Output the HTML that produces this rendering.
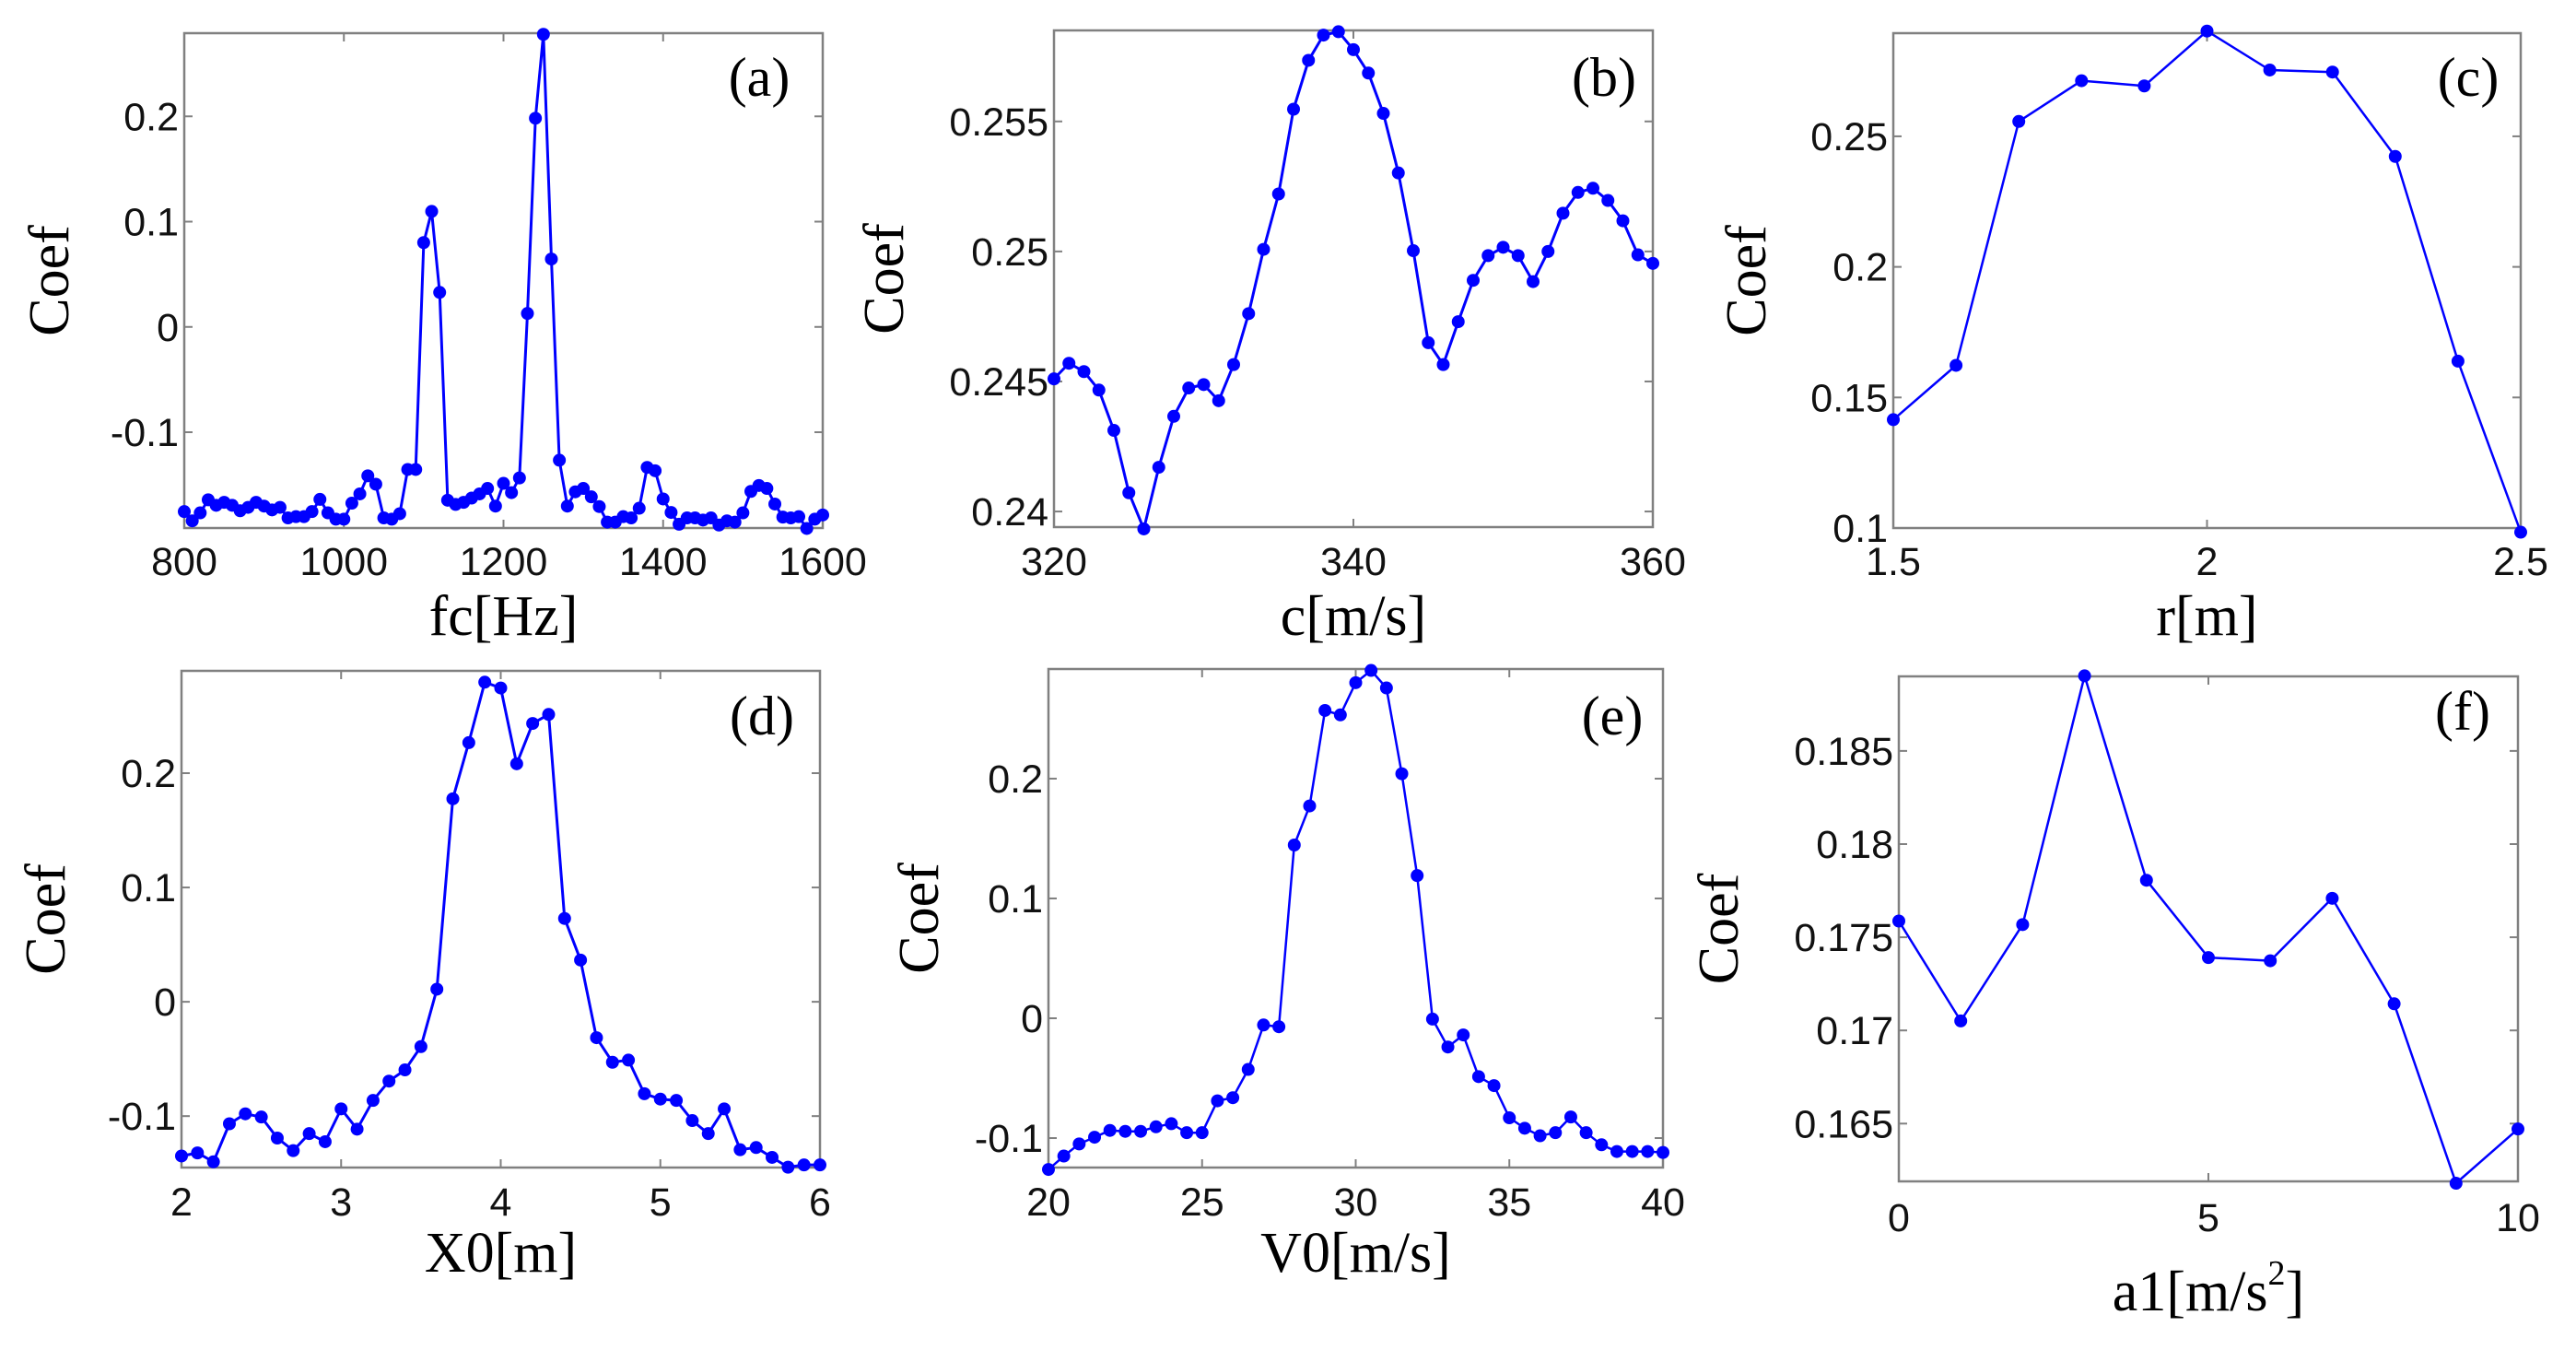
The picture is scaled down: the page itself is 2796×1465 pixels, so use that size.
<!DOCTYPE html>
<html><head><meta charset="utf-8"><style>
html,body{margin:0;padding:0;background:#fff;}
svg{display:block;}
</style></head><body>
<svg id="fig" width="2796" height="1465" viewBox="0 0 2796 1465" xmlns="http://www.w3.org/2000/svg"></svg>
<script>
// Panel (a)
const aX0 = 800, aStep = 10;
const aVals = [-0.1754,-0.1842,-0.1766,-0.1642,-0.1694,-0.1666,-0.1694,-0.1746,-0.1714,-0.1666,
-0.1702,-0.1738,-0.1714,-0.1814,-0.1802,-0.1802,-0.1754,-0.1638,-0.1766,-0.1826,
-0.1826,-0.1674,-0.1586,-0.1414,-0.1494,-0.1814,-0.1826,-0.1774,-0.1354,-0.1354,
0.0801,0.1097,0.0328,-0.1646,-0.1686,-0.1666,-0.1626,-0.1586,-0.1534,-0.1702,
-0.1486,-0.1574,-0.1434,0.0128,0.1982,0.2779,0.0645,-0.1266,-0.1702,-0.1566,
-0.1534,-0.1614,-0.1706,-0.1854,-0.1854,-0.1802,-0.1814,-0.1722,-0.1334,-0.1366,
-0.1634,-0.1762,-0.1874,-0.1814,-0.1814,-0.1834,-0.1814,-0.1882,-0.1842,-0.1854,
-0.1766,-0.1562,-0.1506,-0.1534,-0.1682,-0.1806,-0.1814,-0.1802,-0.1914,-0.1826,-0.1786];
const aXTicks = [800,1000,1200,1400,1600];
const aYTicks = [-0.1,0,0.1,0.2];
const aYTickLabels = ["-0.1","0","0.1","0.2"];
// Panel (b)
const bX0 = 320, bStep = 1;
const bVals = [0.24510,0.24570,0.24538,0.24467,0.24312,0.24072,0.23933,0.24170,0.24366,0.24475,
0.24488,0.24426,0.24565,0.24761,0.25008,0.25221,0.25547,0.25735,0.25832,0.25845,
0.25776,0.25686,0.25531,0.25302,0.25003,0.24649,0.24565,0.24730,0.24889,0.24984,
0.25016,0.24984,0.24884,0.25000,0.25147,0.25227,0.25243,0.25196,0.25118,0.24987,0.24954];
const bXTicks = [320,340,360];
const bYTicks = [0.24,0.245,0.25,0.255];
const bYTickLabels = ["0.24","0.245","0.25","0.255"];
// Panel (c)
const cX0 = 1.5, cStep = 0.1;
const cVals = [0.1415,0.1623,0.2557,0.2713,0.2693,0.2903,0.2754,0.2746,0.2423,0.1639,0.0984];
const cXTicks = [1.5,2,2.5];
const cXTickLabels = ["1.5","2","2.5"];
const cYTicks = [0.1,0.15,0.2,0.25];
const cYTickLabels = ["0.1","0.15","0.2","0.25"];
// Panel (d)
const dX0 = 2, dStep = 0.1;
const dVals = [-0.1349,-0.1322,-0.1400,-0.1067,-0.0980,-0.1008,-0.1192,-0.1302,-0.1153,-0.1224,
-0.0937,-0.1114,-0.0863,-0.0694,-0.0596,-0.0392,0.0110,0.1776,0.2267,0.2796,
0.2745,0.2082,0.2435,0.2514,0.0729,0.0365,-0.0314,-0.0529,-0.0510,-0.0804,
-0.0851,-0.0863,-0.1039,-0.1153,-0.0937,-0.1294,-0.1275,-0.1361,-0.1447,-0.1427,-0.1427];
const dXTicks = [2,3,4,5,6];
const dYTicks = [-0.1,0,0.1,0.2];
const dYTickLabels = ["-0.1","0","0.1","0.2"];
// Panel (e)
const eX0 = 20, eStep = 0.5;
const eVals = [-0.1262,-0.1150,-0.1049,-0.0993,-0.0936,-0.0944,-0.0944,-0.0906,-0.0880,-0.0955,
-0.0955,-0.0689,-0.0663,-0.0427,-0.0056,-0.0071,0.1446,0.1772,0.2569,0.2532,
0.2801,0.2903,0.2757,0.2041,0.1191,-0.0007,-0.0240,-0.0139,-0.0487,-0.0562,
-0.0831,-0.0918,-0.0981,-0.0955,-0.0824,-0.0955,-0.1056,-0.1112,-0.1112,-0.1112,-0.1120];
const eXTicks = [20,25,30,35,40];
const eYTicks = [-0.1,0,0.1,0.2];
const eYTickLabels = ["-0.1","0","0.1","0.2"];
// Panel (f)
const fX0 = 0, fStep = 1;
const fVals = [0.17587,0.17051,0.17568,0.18903,0.17806,0.17391,0.17374,0.17709,0.17143,0.16180,0.16471];
const fXTicks = [0,5,10];
const fYTicks = [0.165,0.17,0.175,0.18,0.185];
const fYTickLabels = ["0.165","0.17","0.175","0.18","0.185"];

const NS = "http://www.w3.org/2000/svg";
const svg = document.getElementById('fig');
function mk(tag, attrs, parent){
  const e = document.createElementNS(NS, tag);
  for (const k in attrs) e.setAttribute(k, attrs[k]);
  (parent||svg).appendChild(e);
  return e;
}
function panel(id, box, xr, yr, x0, step, vals, xt, xtl, yt, ytl, xlabel, letter, lblPos, lw, ylabX, tickY, xlabY, sup){
  const g = mk('g', {});
  
  
  const [L,T,R,B] = box;
  const sx = v => L + (v - xr[0]) / (xr[1] - xr[0]) * (R - L);
  const sy = v => B - (v - yr[0]) / (yr[1] - yr[0]) * (B - T);
  const frame = mk('rect', {x:L, y:T, width:R-L, height:B-T, fill:'none', stroke:'#808080', 'stroke-width':2.5}, g);
  
  
  xt.forEach((v,i) => {
    const x = sx(v);
    mk('line', {x1:x, y1:B, x2:x, y2:B-9, stroke:'#808080','stroke-width':2}, g);
    mk('line', {x1:x, y1:T, x2:x, y2:T+9, stroke:'#808080','stroke-width':2}, g);
    const t = mk('text', {x:x, y:tickY+2, 'text-anchor':'middle', 'font-family':'Liberation Sans, sans-serif', 'font-size':43, fill:'#111'}, g);
    t.textContent = xtl ? xtl[i] : String(v);
    
    
  });
  yt.forEach((v,i) => {
    const y = sy(v);
    mk('line', {x1:L, y1:y, x2:L+9, y2:y, stroke:'#808080','stroke-width':2}, g);
    mk('line', {x1:R, y1:y, x2:R-9, y2:y, stroke:'#808080','stroke-width':2}, g);
    const t = mk('text', {x:L-6, y:y+15, 'text-anchor':'end', 'font-family':'Liberation Sans, sans-serif', 'font-size':43, fill:'#111'}, g);
    t.textContent = ytl[i];
    
    
  });
  const pts = vals.map((v,i) => [sx(x0 + i*step), sy(v)]);
  const line = mk('polyline', {points: pts.map(p => p[0].toFixed(1)+','+p[1].toFixed(1)).join(' '), fill:'none', stroke:'#0000ff', 'stroke-width':lw, 'stroke-linejoin':'round'}, g);
  
  
  pts.forEach(p => {
    const c = mk('circle', {cx:p[0], cy:p[1], r:7, fill:'#0000ff'}, g);
    
    
  });
  const xl = mk('text', {x:(L+R)/2, y:xlabY, 'text-anchor':'middle', 'font-family':'Liberation Serif, serif', 'font-size':62, fill:'#000'}, g);
  xl.textContent = xlabel;
  if (sup) {
    const s1 = mk('tspan', {'font-size':38, dy:-28}, xl); s1.textContent = '2';
    const s2 = mk('tspan', {dy:28}, xl); s2.textContent = ']';
  }
  
  
  const cy = (T+B)/2;
  const yl = mk('text', {x:ylabX, y:cy, 'text-anchor':'middle', 'font-family':'Liberation Serif, serif', 'font-size':62, fill:'#000', transform:'rotate(-90 '+ylabX+' '+cy+')', 'dominant-baseline':'middle'}, g);
  yl.textContent = 'Coef';
  
  
  const pl = mk('text', {x:lblPos[0], y:lblPos[1], 'text-anchor':'middle', 'font-family':'Liberation Serif, serif', 'font-size':60, fill:'#000'}, g);
  pl.textContent = '(' + letter + ')';
  
  
}
panel('a',[200,36,893,573],[800,1600],[-0.191,0.279],aX0,aStep,aVals,aXTicks,null,aYTicks,aYTickLabels,'fc[Hz]','a',[824,104],3,60,622,689,false);
panel('b',[1144,33,1794,572],[320,360],[0.2394,0.2585],bX0,bStep,bVals,bXTicks,null,bYTicks,bYTickLabels,'c[m/s]','b',[1741,104],3,966,622,689,false);
panel('c',[2055,36,2736,573],[1.5,2.5],[0.1,0.2895],cX0,cStep,cVals,cXTicks,cXTickLabels,cYTicks,cYTickLabels,'r[m]','c',[2679,104],2.5,1902,622,689,false);
panel('d',[197,728,890,1267],[2,6],[-0.145,0.2895],dX0,dStep,dVals,dXTicks,null,dYTicks,dYTickLabels,'X0[m]','d',[827,797],3,56,1317,1380,false);
panel('e',[1138,726,1805,1267],[20,40],[-0.1246,0.2915],eX0,eStep,eVals,eXTicks,null,eYTicks,eYTickLabels,'V0[m/s]','e',[1750,797],2.5,1004,1317,1380,false);
panel('f',[2061,734,2733,1282],[0,10],[0.1619,0.189],fX0,fStep,fVals,fXTicks,null,fYTicks,fYTickLabels,'a1[m/s','f',[2673,792],2.5,1872,1334,1422,true);
</script>
</body></html>
